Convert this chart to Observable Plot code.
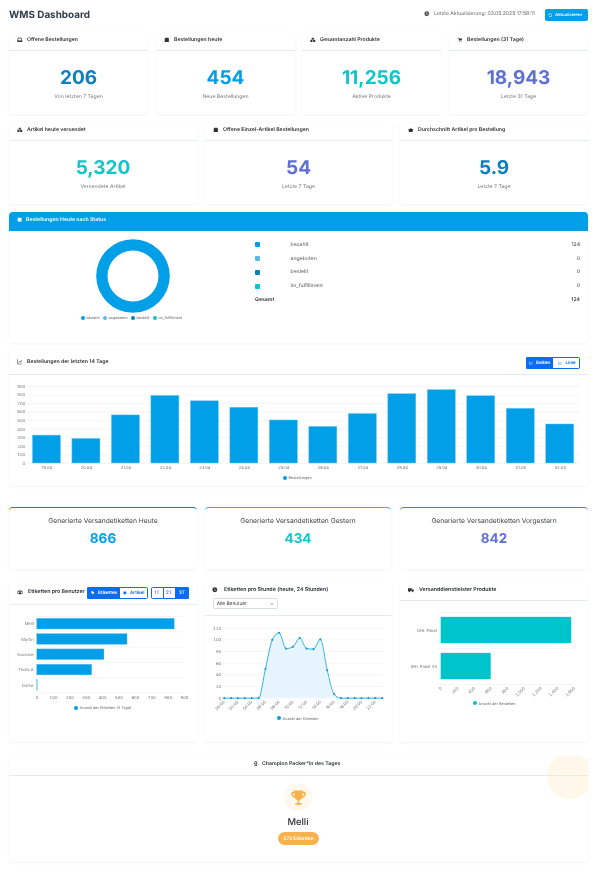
<!DOCTYPE html>
<html lang="de">
<head>
<meta charset="utf-8">
<title>WMS Dashboard</title>
<script src="https://cdn.jsdelivr.net/npm/d3@7"></script>
<script src="https://cdn.jsdelivr.net/npm/@observablehq/plot@0.6"></script>
<style>
html,body{margin:0;padding:0;background:#fff;}
body{width:598px;height:879px;position:relative;overflow:hidden;font-family:Inter,sans-serif;text-rendering:geometricPrecision;}
#page{position:absolute;left:0;top:0;width:598px;height:879px;overflow:hidden;filter:blur(.3px);}
.t{position:absolute;white-space:nowrap;line-height:1;}
.box{position:absolute;box-sizing:border-box;}
.card{position:absolute;background:#fff;box-shadow:0 1px 3px rgba(40,50,70,.06);}
.plot{position:absolute;}
.plot svg{display:block;overflow:visible;background:transparent;text-rendering:geometricPrecision;}
</style>
</head>
<body>
<div id="page"></div>
<script>
// ---------- data ----------
const updateText = "Letzte Aktualisierung: 03.05.2025 17:58:11";
const kpiTitlesTop = ["Offene Bestellungen","Bestellungen heute","Gesamtanzahl Produkte","Bestellungen (31 Tage)"];
const kpiValuesTop = ["206","454","11,256","18,943"];
const kpiCaptionsTop = ["Von letzten 7 Tagen","Neue Bestellungen","Aktive Produkte","Letzte 31 Tage"];
const kpiTitlesMid = ["Artikel heute versendet","Offene Einzel-Artikel Bestellungen","Durchschnitt Artikel pro Bestellung"];
const kpiValuesMid = ["5,320","54","5.9"];
const kpiCaptionsMid = ["Versendete Artikel","Letzte 7 Tage","Letzte 7 Tage"];
const statusNames = ["bezahlt","angeboten","bestellt","im_fulfillment"];
const statusValues = [124,0,0,0];
const statusColors = ["#019fe8","#5cb8ea","#0a7fb8","#0fc4cb"];
const dayLabels = ["19.04","20.04","21.04","22.04","23.04","24.04","25.04","26.04","27.04","28.04","29.04","30.04","01.05","02.05"];
const dayOrders = [326,287,562,790,727,652,503,428,578,810,857,786,640,456];
const labelTitles = ["Generierte Versandetiketten Heute","Generierte Versandetiketten Gestern","Generierte Versandetiketten Vorgestern"];
const labelValues = ["866","434","842"];
const packers = ["Melli","Martin","Susanne","Thorb A","Dafne"];
const packerLabels = [840,552,411,336,3];
const hourLabels = ["00:00","01:00","02:00","03:00","04:00","05:00","06:00","07:00","08:00","09:00","10:00","11:00","12:00","13:00","14:00","15:00","16:00","17:00","18:00","19:00","20:00","21:00","22:00","23:00"];
const hourCounts = [0,0,0,0,0,0,50,100,112,85,88,103,85,84,101,48,7,0,0,0,0,0,0,0];
const carriers = ["DHL Paket","DHL Paket XS"];
const carrierOrders = [1566,600];

const BLUE="#019fe8", DEEP="#0d80bd", TEAL="#10c6ca", INDIGO="#5e6fd6", BTN="#0a6cf0", ORANGE="#f7b24f";
const page=document.getElementById("page");

function t(x,y,text,o={}){
  const e=document.createElement("div");e.className="t";e.textContent=text;
  const a=o.anchor||"start";
  const tx=a==="middle"?"-50%":a==="end"?"-100%":"0";
  e.style.cssText+=`left:${x}px;top:${y+1}px;transform:translate(${tx},-50%);font-size:${o.size||5}px;font-weight:${o.weight||400};color:${o.color||"#333"};`;
  page.appendChild(e);return e;
}
function box(x,y,w,h,css=""){
  const e=document.createElement("div");e.className="box";
  e.style.cssText=`left:${x}px;top:${y}px;width:${w}px;height:${h}px;${css}`;
  page.appendChild(e);return e;
}
function card(x,y,w,h,css=""){const e=box(x,y,w,h,css);e.className="card";e.style.borderRadius=e.style.borderRadius||"3px";return e;}
function rule(x,y,w){box(x,y,w,1,"background:#e6e9ee;");}
const icons={
 box:"M2 5h12v9H2z M4 2h8l2 3H2z",
 boxes:"M5 2h6v5H5z M1 8h6v6H1z M9 8h6v6H9z",
 cart:"M1 2h3l1 2h10l-2 6H6L4 4 3.4 3.4H1z M6 11.5h1.8v2H6z M11 11.5h1.8v2H11z",
 basket:"M1 6h14l-2 8H3z M5 6l3-4 3 4H9.5L8 4 6.5 6z",
 inbox:"M3 2h10l2 7v5H1V9z M4 4 3 9h3l1 2h2l1-2h3l-1-5z",
 clock:"M8 1a7 7 0 1 0 0 14A7 7 0 0 0 8 1z M7.3 4h1.4v4l3 1.8-.7 1.2-3.7-2.2z",
 chart:"M1 1h1.4v12.6H15V15H1z M4 10l3-4 3 2 4-5 1 .8-4.8 6-3-2L5 11z",
 users:"M8 3a2.4 2.4 0 1 1 0 4.8A2.4 2.4 0 0 1 8 3z M4 14v-2.5C4 9.5 6 8.6 8 8.6s4 .9 4 2.9V14z M3 4a1.9 1.9 0 1 1 0 3.8A1.9 1.9 0 0 1 3 4z M13 4a1.9 1.9 0 1 1 0 3.8A1.9 1.9 0 0 1 13 4z M0 12v-1.6c0-1.2 1.2-1.8 3-1.8-.5.6-.7 1.3-.7 2.2V12z M16 12v-1.6c0-1.2-1.2-1.8-3-1.8.5.6.7 1.3.7 2.2V12z",
 truck:"M0 3h10v8H0z M11 6h3l2 2.5V11h-5z M3.5 10.5a1.8 1.8 0 1 1 0 3.6 1.8 1.8 0 0 1 0-3.6z M12 10.5a1.8 1.8 0 1 1 0 3.6 1.8 1.8 0 0 1 0-3.6z",
 medal:"M8 1a4.5 4.5 0 1 0 0 9 4.5 4.5 0 0 0 0-9z M8 3.2a2.3 2.3 0 1 1 0 4.6 2.3 2.3 0 0 1 0-4.6z M5 10.5 4 15l4-1.8L12 15l-1-4.5a6 6 0 0 1-6 0z",
 sync:"M8 2a6 6 0 0 1 5.6 4h-1.6A4.5 4.5 0 0 0 4.2 5.5L6 7H2V3l1.2 1.3A6 6 0 0 1 8 2z M2.4 10H4a4.5 4.5 0 0 0 7.8.5L10 9h4v4l-1.2-1.3A6 6 0 0 1 2.4 10z",
 tag:"M1 1h7l7 7-7 7-7-7z",
 trophy:"M6 3h12v2h3v3c0 2.5-2 4.5-4.5 4.6A6 6 0 0 1 13 15.9V19h3v2H8v-2h3v-3.1a6 6 0 0 1-3.5-3.3C5 12.5 3 10.5 3 8V5h3V3z M5 7v1c0 1.3.8 2.3 2 2.5-.1-.5-.1-1-.1-1.5V7H5z M19 7h-1.9v2c0 .5 0 1-.1 1.5 1.2-.2 2-1.2 2-2.5V7z"
};
function icon(cx,cy,name,size=6,color="#333",vb=16){
  const ns="http://www.w3.org/2000/svg";
  const s=document.createElementNS(ns,"svg");
  s.setAttribute("viewBox",`0 0 ${vb} ${vb}`);
  s.style.cssText=`position:absolute;left:${cx-size/2}px;top:${cy-size/2}px;width:${size}px;height:${size}px;`;
  const p=document.createElementNS(ns,"path");
  p.setAttribute("d",icons[name]);p.setAttribute("fill",color);p.setAttribute("fill-rule","evenodd");
  s.appendChild(p);page.appendChild(s);
}
function dotLegend(x,y,text,color,size=3.8){
  box(x-2,y-2,4,4,`background:${color};border-radius:50%;`);
  t(x+3.6,y-.5,text,{size,color:"#666"});
}
function mount(x,y,plot){
  const d=document.createElement("div");d.className="plot";d.style.left=x+"px";d.style.top=y+"px";
  d.appendChild(plot);page.appendChild(d);
}
const plotStyle={fontFamily:"Inter,sans-serif",fontSize:"4px",color:"#666",background:"transparent",overflow:"visible"};
const GRID="#eceff3";
const AXF=4.1;

// ---------- header ----------
t(9,14.5,"WMS Dashboard",{size:9.9,weight:700,color:"#2f3a4c"});
icon(427,14,"clock",5.5,"#555");
t(434,13.5,updateText,{size:5.1,color:"#666"});
box(545,9,43,12,`background:${BLUE};border-radius:2px;`);
icon(550,15,"sync",4.5,"#fff");
t(555,14.5,"Aktualisieren",{size:4.3,weight:600,color:"#fff"});

// ---------- KPI rows ----------
const topX=[[9,139],[156,139],[302,139],[449,139]];
const topIcons=["inbox","box","boxes","cart"];
const topColors=[DEEP,BLUE,TEAL,INDIGO];
topX.forEach(([x,w],i)=>{
  card(x,32,w,82);
  rule(x,50,w);
  icon(x+11,40,topIcons[i],5.6);
  t(x+18,40,kpiTitlesTop[i],{size:5.2,weight:600,color:"#2b2f36"});
  t(x+w/2,76,kpiValuesTop[i],{size:19,weight:700,color:topColors[i],anchor:"middle"});
  t(x+w/2,97,kpiCaptionsTop[i],{size:5.2,color:"#777",anchor:"middle"});
});
const midX=[[9,188],[205,187],[400,188]];
const midIcons=["boxes","box","basket"];
const midColors=[TEAL,INDIGO,DEEP];
midX.forEach(([x,w],i)=>{
  card(x,122,w,82);
  rule(x,140,w);
  icon(x+11,130,midIcons[i],5.6);
  t(x+18,130,kpiTitlesMid[i],{size:5.2,weight:600,color:"#2b2f36"});
  t(x+w/2,166,kpiValuesMid[i],{size:19,weight:700,color:midColors[i],anchor:"middle"});
  t(x+w/2,187,kpiCaptionsMid[i],{size:5.2,color:"#777",anchor:"middle"});
});

// ---------- status ----------
card(9,212,579,131);
box(9,212,579,18.5,`background:${BLUE};border-radius:4px 4px 0 0;`);
icon(20,220,"box",5.2,"#fff");
t(26,220,"Bestellungen Heute nach Status",{size:5.2,weight:600,color:"#fff"});
const donut=Plot.plot({
  width:80,height:80,margin:0,style:plotStyle,axis:null,
  marks:[(index,scales,values,dim,ctx)=>{
    const pie=d3.pie().sort(null)(statusValues);
    const arc=d3.arc().innerRadius(25.5).outerRadius(36.8);
    const g=d3.select(ctx.document.createElementNS("http://www.w3.org/2000/svg","g")).attr("transform",`translate(40,40)`);
    g.selectAll("path").data(pie).enter().append("path").attr("d",arc).attr("fill",(d,i)=>statusColors[i]);
    return g.node();
  }]
});
mount(92.5,235.5,donut);
[83,105,133,155].forEach((x,i)=>{
  box(x-2,315.8,4,4,`background:${statusColors[i]};border-radius:50%;`);
  t(x+3.5,317.3,statusNames[i],{size:3.8,color:"#666"});
});
const rowY=[244.5,258.5,272,286];
statusNames.forEach((n,i)=>{
  box(255,rowY[i]-2.5,5,5,`background:${statusColors[i]};border-radius:1px;`);
  t(290.5,rowY[i],n,{size:5.2,color:"#555"});
  t(580,rowY[i],String(statusValues[i]),{size:5.2,color:"#333",anchor:"end"});
});
t(255,300,"Gesamt",{size:5.2,weight:600,color:"#333"});
t(580,300,String(d3.sum(statusValues)),{size:5.2,weight:500,color:"#333",anchor:"end"});

// ---------- orders 14 days ----------
card(9,350,579,136);
rule(9,374,579);
icon(20,362,"chart",5.6);
t(27,361.5,"Bestellungen der letzten 14 Tage",{size:5.2,weight:600,color:"#2b2f36"});
box(526,357,54,12,`border:.8px solid ${BTN};border-radius:1.5px;background:#fff;`);
box(526,357,27,12,`background:${BTN};border-radius:1.5px 0 0 1.5px;`);
icon(530.5,363,"chart",4,"#fff");
t(536,362.5,"Balken",{size:4.4,weight:600,color:"#fff"});
icon(560,363,"chart",4,BTN);
t(565.5,362.5,"Linie",{size:4.4,weight:600,color:BTN});
mount(9,380,Plot.plot({
  width:579,height:94,marginLeft:17.7,marginRight:8.5,marginTop:6,marginBottom:11,style:plotStyle,
  x:{type:"band",domain:dayLabels,paddingInner:.29,paddingOuter:.145,round:false,label:null},
  y:{domain:[0,900],label:null},
  marks:[
    Plot.gridY(d3.range(0,901,100),{stroke:GRID,strokeOpacity:1,strokeWidth:.6}),
    Plot.axisY(d3.range(0,901,100),{tickSize:0,tickPadding:2,fontSize:AXF,label:null,fill:"#777"}),
    Plot.axisX({tickSize:0,tickPadding:3,fontSize:AXF,label:null,fill:"#777"}),
    Plot.barY(dayOrders,{x:(d,i)=>dayLabels[i],y:d=>d,fill:BLUE,stroke:"#74c8f2",strokeWidth:.5})
  ]
}));
dotLegend(285,477.7,"Bestellungen",BLUE);

// ---------- label KPI ----------
const lblX=[[9,188],[205,186],[400,188]];
const lblTop=[DEEP,TEAL,INDIGO];
const lblCol=[BLUE,TEAL,INDIGO];
lblX.forEach(([x,w],i)=>{
  card(x,507,w,61,`border-top:1px solid ${lblTop[i]};border-radius:4px;`);
  t(x+w/2,519.5,labelTitles[i],{size:6.7,color:"#3a3f47",anchor:"middle"});
  t(x+w/2,538.5,labelValues[i],{size:13.5,weight:700,color:lblCol[i],anchor:"middle"});
});

// ---------- labels per user ----------
card(9,582,188,160);
rule(9,604,188);
icon(20,592,"users",6);
t(28,592,"Etiketten pro Benutzer",{size:5.3,weight:600,color:"#2b2f36"});
box(87,587,61,12,`border:.8px solid ${BTN};border-radius:1.5px;background:#fff;`);
box(87,587,33,12,`background:${BTN};border-radius:1.5px 0 0 1.5px;`);
icon(93,593,"tag",3.6,"#fff");
t(98,592.5,"Etiketten",{size:4.6,weight:600,color:"#fff"});
icon(125,593,"box",3.6,BTN);
t(130,592.5,"Artikel",{size:4.6,weight:600,color:BTN});
box(151,587,38,12,`border:.8px solid ${BTN};border-radius:1.5px;background:#fff;`);
box(175,587,14,12,`background:${BTN};border-radius:0 1.5px 1.5px 0;`);
box(163,587,.8,12,`background:${BTN};`);
t(157,592.5,"1T",{size:4.6,weight:500,color:BTN,anchor:"middle"});
t(169,592.5,"2T",{size:4.6,weight:500,color:BTN,anchor:"middle"});
t(182,592.5,"3T",{size:4.6,weight:500,color:"#fff",anchor:"middle"});
mount(9,610,Plot.plot({
  width:188,height:94,marginLeft:27.7,marginRight:13,marginTop:6,marginBottom:11.5,style:plotStyle,
  y:{type:"band",domain:packers,paddingInner:.3,paddingOuter:.15,round:false,label:null},
  x:{domain:[0,900],label:null},
  marks:[
    Plot.ruleY(packers,{stroke:GRID,strokeWidth:.6,dy:7.65}),
    Plot.ruleY(packers.slice(0,1),{stroke:GRID,strokeWidth:.6,dy:-7.65}),
    Plot.axisY({tickSize:0,tickPadding:3.5,fontSize:AXF,label:null,fill:"#777"}),
    Plot.axisX(d3.range(0,901,100),{tickSize:0,tickPadding:3,fontSize:AXF,label:null,fill:"#777"}),
    Plot.barX(packerLabels,{y:(d,i)=>packers[i],x:d=>d,fill:BLUE,stroke:"#74c8f2",strokeWidth:.4})
  ]
}));
dotLegend(76,707.7,"Anzahl der Etiketten (3 Tage)",BLUE);

// ---------- labels per hour ----------
card(205,582,187,160);
rule(205,615,187);
icon(215,590,"clock",5.6,"#333");
t(224,590,"Etiketten pro Stunde (heute, 24 Stunden)",{size:5.3,weight:600,color:"#2b2f36"});
box(213,598,65,11,"border:.7px solid #d8dce2;border-radius:1.5px;background:#fff;");
t(216.7,603,"Alle Benutzer",{size:4.8,color:"#333"});
t(272,602.5,"⌄",{size:5,color:"#444",anchor:"middle"});
mount(205,622,Plot.plot({
  width:187,height:95,marginLeft:16.7,marginRight:8.3,marginTop:5.7,marginBottom:19.3,style:plotStyle,
  x:{type:"point",domain:hourLabels,padding:.3,round:false,label:null},
  y:{domain:[0,120],label:null},
  marks:[
    Plot.gridY(d3.range(0,121,20),{stroke:GRID,strokeOpacity:1,strokeWidth:.6}),
    Plot.axisY(d3.range(0,121,20),{tickSize:0,tickPadding:1,fontSize:AXF,label:null,fill:"#777"}),
    Plot.axisX(hourLabels.filter((d,i)=>i%2===0),{tickSize:0,tickPadding:3,fontSize:AXF,label:null,fill:"#777",tickRotate:-45}),
    Plot.areaY(hourCounts,{x:(d,i)=>hourLabels[i],y:d=>d,fill:"#e6f5fd",curve:"monotone-x"}),
    Plot.lineY(hourCounts,{x:(d,i)=>hourLabels[i],y:d=>d,stroke:"#0f9fd6",strokeWidth:.8,curve:"monotone-x"}),
    Plot.dot(hourCounts,{x:(d,i)=>hourLabels[i],y:d=>d,r:1.1,fill:"#0f9fd6"})
  ]
}));
dotLegend(279,718,"Anzahl der Etiketten",BLUE);

// ---------- carriers ----------
card(400,582,188,160);
rule(400,600,188);
icon(411,590,"truck",6);
t(419,590,"Versanddienstleister Produkte",{size:5.3,weight:600,color:"#2b2f36"});
mount(400,606,Plot.plot({
  width:188,height:90,marginLeft:40.7,marginRight:14,marginTop:6,marginBottom:12,style:plotStyle,
  y:{type:"band",domain:carriers,paddingInner:.27,paddingOuter:.135,round:false,label:null},
  x:{domain:[0,1600],label:null},
  marks:[
    Plot.ruleY(carriers,{stroke:GRID,strokeWidth:.6,dy:18,x1:-50,x2:1600}),
    Plot.ruleY(carriers.slice(0,1),{stroke:GRID,strokeWidth:.6,dy:-18,x1:-50,x2:1600}),
    Plot.axisY({tickSize:0,tickPadding:4,fontSize:AXF,label:null,fill:"#777"}),
    Plot.axisX(d3.range(0,1601,200),{tickSize:0,tickPadding:3,fontSize:AXF,label:null,fill:"#777",tickRotate:-45,tickFormat:d3.format(",")}),
    Plot.barX(carrierOrders,{y:(d,i)=>carriers[i],x:d=>d,fill:"#00c4cc"})
  ]
}));
dotLegend(475,703,"Anzahl der Bestellen","#00c4cc");

// ---------- champion ----------
const c=card(9,756,579,106);c.style.overflow="hidden";
const bub=document.createElement("div");
bub.style.cssText="position:absolute;left:538px;top:-3px;width:46px;height:46px;border-radius:50%;background:#fff7ea;";
c.appendChild(bub);
rule(9,775,579);
icon(256,764,"medal",5.6);
t(262,763.5,"Champion Packer*in des Tages",{size:5.2,weight:600,color:"#2b2f36"});
box(284,783,28,28,"background:#fff8ee;border-radius:50%;");
icon(298,797,"trophy",19,ORANGE,24);
t(298,821.5,"Melli",{size:9.4,weight:500,color:"#2b2f36",anchor:"middle"});
box(278,832,41,13,`background:${ORANGE};border-radius:7px;`);
t(298.5,838,"372 Etiketten",{size:4.8,weight:600,color:"#fff",anchor:"middle"});
</script>
</body>
</html>
